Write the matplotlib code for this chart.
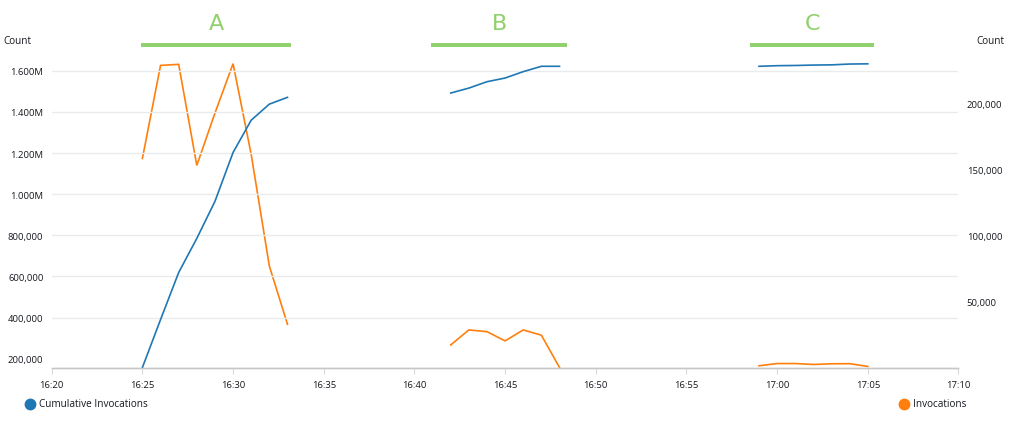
import numpy as np
import matplotlib
matplotlib.use("Agg")
import matplotlib.pyplot as plt
from matplotlib.lines import Line2D

# ---- data ----
times_a = ["16:25", "16:26", "16:27", "16:28", "16:29", "16:30", "16:31", "16:32", "16:33"]
cum_a = [157000, 390000, 619000, 785000, 965000, 1203000, 1360000, 1438000, 1471000]
inv_a = [158600, 229200, 230000, 153300, 193000, 230500, 161600, 77000, 32800]

times_b = ["16:42", "16:43", "16:44", "16:45", "16:46", "16:47", "16:48"]
cum_b = [1492000, 1516000, 1547000, 1565000, 1596000, 1622000, 1622000]
inv_b = [17100, 28500, 27200, 20200, 28500, 24500, 0]

times_c = ["16:59", "17:00", "17:01", "17:02", "17:03", "17:04", "17:05"]
cum_c = [1622000, 1625000, 1626000, 1628000, 1629000, 1633000, 1634000]
inv_c = [1300, 3000, 3000, 2300, 2800, 2900, 800]

x_ticks = ["16:20", "16:25", "16:30", "16:35", "16:40", "16:45", "16:50", "16:55", "17:00", "17:05", "17:10"]
left_ticks = [200000, 400000, 600000, 800000, 1000000, 1200000, 1400000, 1600000]
left_labels = ["200,000", "400,000", "600,000", "800,000", "1.000M", "1.200M", "1.400M", "1.600M"]
right_ticks = [50000, 100000, 150000, 200000]
right_labels = ["50,000", "100,000", "150,000", "200,000"]
group_labels = ["A", "B", "C"]


def to_min(t):
    h, m = t.split(":")
    return int(h) * 60 + int(m)


def join(*segs):
    xs, ys = [], []
    for i, (t, v) in enumerate(segs):
        if i > 0:
            xs.append(np.nan)
            ys.append(np.nan)
        xs += [to_min(s) for s in t]
        ys += list(v)
    return np.array(xs, float), np.array(ys, float)


xc, yc = join((times_a, cum_a), (times_b, cum_b), (times_c, cum_c))
xi, yi = join((times_a, inv_a), (times_b, inv_b), (times_c, inv_c))

BLUE = "#1f77b4"
ORANGE = "#ff7f0e"
GREEN = "#8fd16a"
TXT = "#16191f"
FONT = ["Open Sans", "DejaVu Sans"]
plt.rcParams["font.family"] = FONT

fig = plt.figure(figsize=(10.16, 4.27), dpi=100)
ax = fig.add_axes([0.0509, 0.137, 0.8925, 0.7155])
ax2 = ax.twinx()

ax.plot(xc, yc, color=BLUE, lw=1.2, solid_joinstyle="miter")
ax2.plot(xi, yi, color=ORANGE, lw=1.2, solid_joinstyle="miter")

ax.set_xlim(to_min(x_ticks[0]), to_min(x_ticks[-1]))
ax.set_ylim(157200, 1643000)
ax2.set_ylim(0, 231800)

ax.set_xticks([to_min(t) for t in x_ticks])
ax.set_xticklabels(x_ticks, fontsize=6.8, color=TXT)
ax.set_yticks(left_ticks)
ax.set_yticklabels(left_labels, fontsize=6.8, color=TXT)
ax2.set_yticks(right_ticks)
ax2.set_yticklabels(right_labels, fontsize=6.8, color=TXT)

ax.tick_params(axis="y", length=0, pad=6)
ax2.tick_params(axis="y", length=0, pad=6)
ax.tick_params(axis="x", length=4, color="#d5dbdb", pad=5)

for a in (ax, ax2):
    for s in ("top", "left", "right"):
        a.spines[s].set_visible(False)
    a.spines["bottom"].set_color("#c7c7c7")
    a.spines["bottom"].set_linewidth(1.0)

# gridlines (skip lowest level)
for v in left_ticks[1:]:
    ax.axhline(v, color="#e9ebed", lw=1.0, zorder=0)
ax.set_zorder(1)
ax.patch.set_visible(False)

fig.text(3 / 1016, 1 - 42 / 427, "Count", fontsize=7.2, color=TXT, va="center", ha="left")
fig.text(1004 / 1016, 1 - 42 / 427, "Count", fontsize=7.2, color=TXT, va="center", ha="right")

# group annotations
groups_px = [(141, 291), (431, 567), (750, 874)]
for lab, (x0, x1) in zip(group_labels, groups_px):
    fig.add_artist(Line2D([x0 / 1016, x1 / 1016], [1 - 46 / 427] * 2, color=GREEN, lw=2.8,
                          transform=fig.transFigure, solid_capstyle="butt"))
    fig.text((x0 + x1) / 2 / 1016, 1 - 24 / 427, lab, fontsize=16, color=GREEN,
             ha="center", va="center", family=["Liberation Sans Narrow", "DejaVu Sans"])

# legend
for (px, color, label) in [(29.5, BLUE, "Cumulative Invocations"), (904, ORANGE, "Invocations")]:
    fig.add_artist(Line2D([px / 1016], [1 - 405 / 427], marker="o", markersize=7.5, color=color,
                          transform=fig.transFigure, linestyle="none"))
    fig.text((px + 9.5) / 1016, 1 - 405 / 427, label, fontsize=7.2, color=TXT, va="center", ha="left")

fig.savefig("out.png", dpi=100)
